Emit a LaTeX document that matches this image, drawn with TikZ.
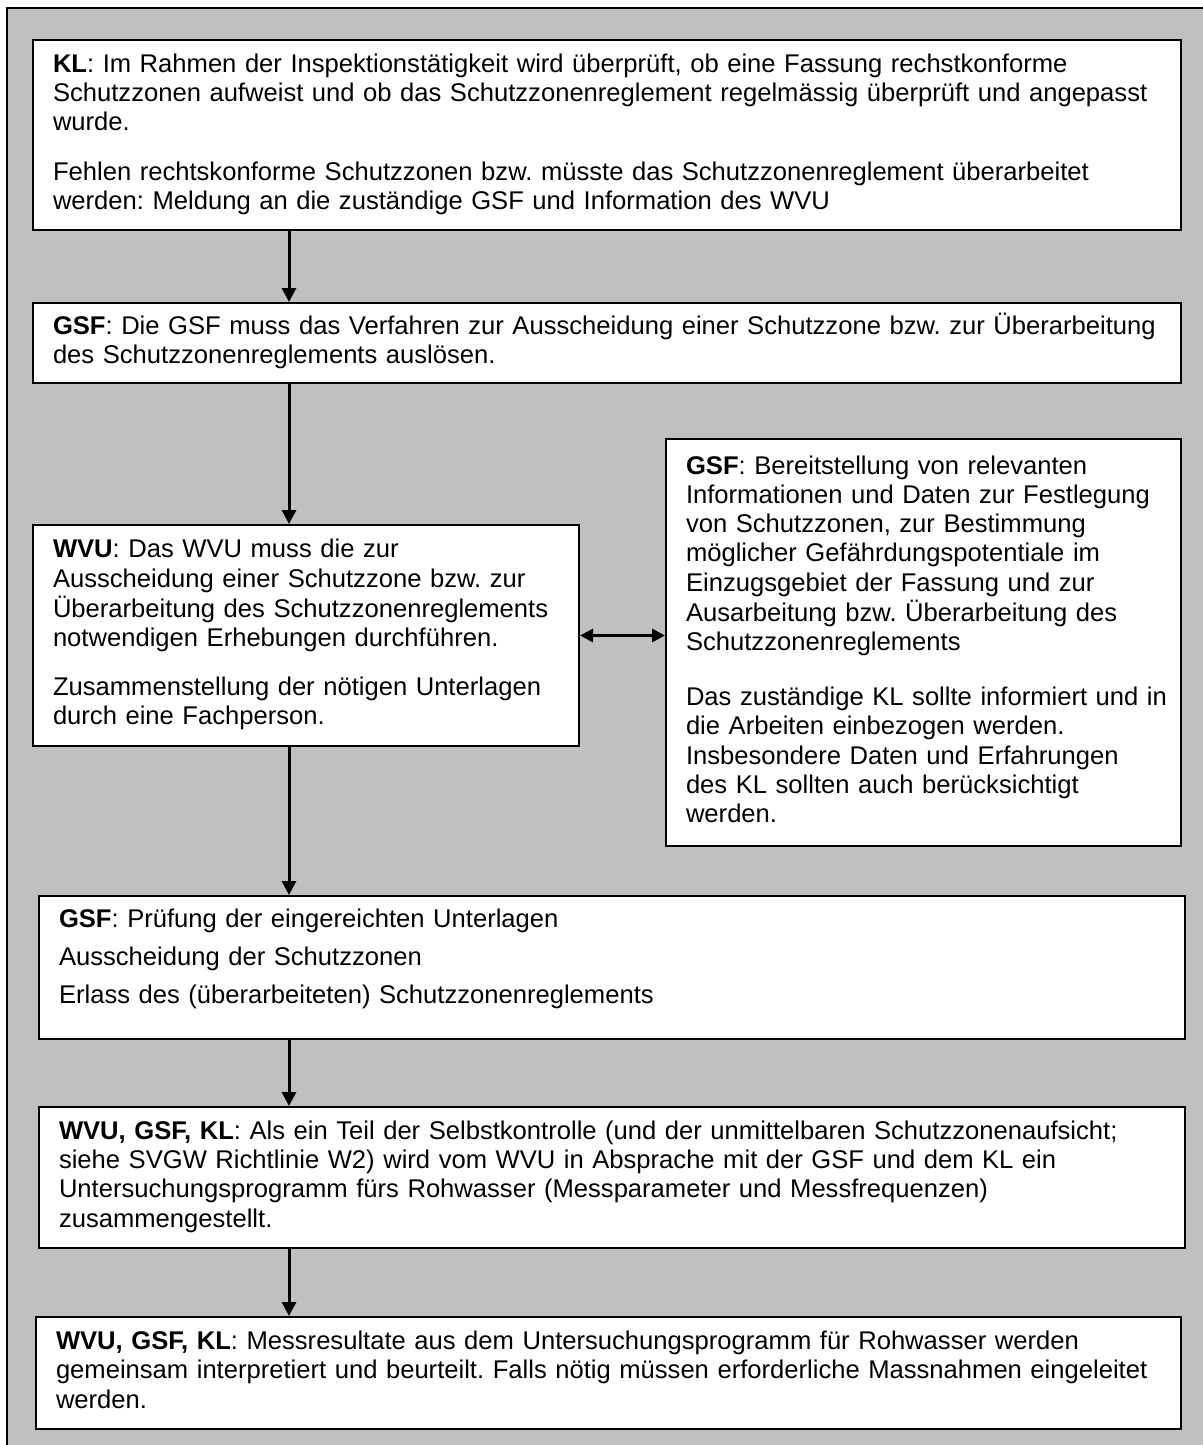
\documentclass[tikz,border=0pt]{standalone}
\usepackage{fontspec}
\setmainfont{Liberation Sans}
\usetikzlibrary{arrows.meta,positioning}
\definecolor{bg}{HTML}{C0C0C0}
\newcommand{\lns}[1]{\begin{tabular}{@{}l@{}}#1\end{tabular}}
\tikzset{
  box/.style={draw=black,line width=1pt,fill=white,align=left,anchor=north west,inner xsep=10pt,inner ysep=0pt},
  ar/.style={-{Triangle[length=7pt,width=7pt]},line width=1.5pt},
  ar2/.style={{Triangle[length=6.5pt,width=6.5pt]}-{Triangle[length=6.5pt,width=6.5pt]},line width=1.5pt},
}
\frenchspacing

\begin{document}
\begin{tikzpicture}[x=0.5pt,y=-0.5pt,font=\fontsize{12.8}{14.6}\selectfont]
\clip (0,0) rectangle (1203,1445);
\fill[bg] (7,8) rectangle (1220,1460);
\draw[line width=1pt] (7,1460) -- (7,8) -- (1220,8);
\coordinate (ax) at (289,0);
% boxes
\node[box,text width=554pt,minimum height=95pt] (k1) at (32,39) {\lns{\textbf{KL}: Im Rahmen der Inspektionstätigkeit wird überprüft, ob eine Fassung rechstkonforme\\
Schutzzonen aufweist und ob das Schutzzonenreglement regelmässig überprüft und angepasst\\
wurde.\\[10pt]
Fehlen rechtskonforme Schutzzonen bzw. müsste das Schutzzonenreglement überarbeitet\\
werden: Meldung an die zuständige GSF und Information des WVU}};
\node[box,text width=554pt,minimum height=40pt] (k2) at (32,302) {\lns{\textbf{GSF}: Die GSF muss das Verfahren zur Ausscheidung einer Schutzzone bzw. zur Überarbeitung\\
des Schutzzonenreglements auslösen.}};
\node[box,text width=253pt,minimum height=110.5pt] (k3) at (32,524) {\lns{\textbf{WVU}: Das WVU muss die zur\\
Ausscheidung einer Schutzzone bzw. zur\\
Überarbeitung des Schutzzonenreglements\\
notwendigen Erhebungen durchführen.\\[10pt]
Zusammenstellung der nötigen Unterlagen\\
durch eine Fachperson.}};
\node[box,text width=237.5pt,minimum height=203.5pt] (k4) at (665,438) {\lns{\textbf{GSF}: Bereitstellung von relevanten\\
Informationen und Daten zur Festlegung\\
von Schutzzonen, zur Bestimmung\\
möglicher Gefährdungspotentiale im\\
Einzugsgebiet der Fassung und zur\\
Ausarbeitung bzw. Überarbeitung des\\
Schutzzonenreglements\\[13pt]
Das zuständige KL sollte informiert und in\\
die Arbeiten einbezogen werden.\\
Insbesondere Daten und Erfahrungen\\
des KL sollten auch berücksichtigt\\
werden.}};
\node[box,text width=553pt,minimum height=71.5pt] (k5) at (38,895) {\lns{\textbf{GSF}: Prüfung der eingereichten Unterlagen\\[4.5pt]
Ausscheidung der Schutzzonen\\[4.5pt]
Erlass des (überarbeiteten) Schutzzonenreglements\\[8pt]}};
\node[box,text width=553pt,minimum height=70.5pt] (k6) at (38,1106) {\lns{\textbf{WVU, GSF, KL}: Als ein Teil der Selbstkontrolle (und der unmittelbaren Schutzzonenaufsicht;\\
siehe SVGW Richtlinie W2) wird vom WVU in Absprache mit der GSF und dem KL ein\\
Untersuchungsprogramm fürs Rohwasser (Messparameter und Messfrequenzen)\\
zusammengestellt.}};
\node[box,text width=552.5pt,minimum height=56pt] (k7) at (35,1316) {\lns{\textbf{WVU, GSF, KL}: Messresultate aus dem Untersuchungsprogramm für Rohwasser werden\\
gemeinsam interpretiert und beurteilt. Falls nötig müssen erforderliche Massnahmen eingeleitet\\
werden.}};
% arrows
\draw[ar] (k1.south -| ax) -- (k2.north -| ax);
\draw[ar] (k2.south -| ax) -- (k3.north -| ax);
\draw[ar] (k3.south -| ax) -- (k5.north -| ax);
\draw[ar] (k5.south -| ax) -- (k6.north -| ax);
\draw[ar] (k6.south -| ax) -- (k7.north -| ax);
\draw[ar2] (k3.east) -- (k3.east -| k4.west);
\end{tikzpicture}
\end{document}
